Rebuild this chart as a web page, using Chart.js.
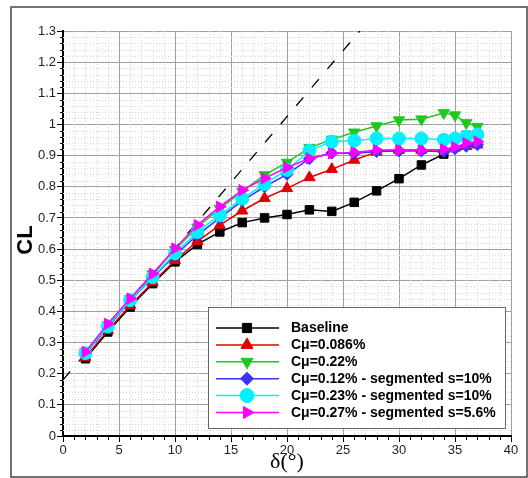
<!DOCTYPE html>
<html lang="en">
<head>
    <meta charset="UTF-8">
    <title>CL vs delta</title>
    <script src="https://cdn.jsdelivr.net/npm/chart.js"></script>
    <style>
        body {
            margin: 0;
            padding: 0;
            background: #fff;
        }
        canvas {
            display: block;
        }
    </style>
</head>
<body>
    <canvas id="clChart" width="528" height="478"></canvas>
    <script>
        // angles (deg)
        const deltaAll = [2, 4, 6, 8, 10, 12, 14, 16, 18, 20, 22, 24, 26, 28, 30, 32, 34, 35, 36, 37];
        const deltaBase = [2, 4, 6, 8, 10, 12, 14, 16, 18, 20, 22, 24, 26, 28, 30, 32, 34, 36];

        // CL values
        const clBaseline = [0.248, 0.334, 0.414, 0.489, 0.559, 0.615, 0.655, 0.685, 0.700, 0.711, 0.726, 0.721, 0.750, 0.787, 0.826, 0.870, 0.905, 0.965];
        const clCmu086 = [0.253, 0.339, 0.420, 0.493, 0.564, 0.625, 0.677, 0.723, 0.763, 0.795, 0.830, 0.856, 0.886, 0.912, 0.918, 0.918, 0.920, 0.925, 0.930, 0.935];
        const clCmu22 = [0.270, 0.357, 0.440, 0.520, 0.598, 0.670, 0.730, 0.785, 0.838, 0.878, 0.925, 0.952, 0.975, 0.995, 1.014, 1.017, 1.037, 1.030, 1.005, 0.993];
        const clSeg12 = [0.264, 0.350, 0.434, 0.508, 0.580, 0.645, 0.700, 0.755, 0.800, 0.840, 0.890, 0.908, 0.907, 0.913, 0.915, 0.915, 0.913, 0.922, 0.930, 0.935];
        const clSeg23 = [0.266, 0.352, 0.436, 0.510, 0.586, 0.655, 0.709, 0.762, 0.809, 0.854, 0.916, 0.945, 0.948, 0.955, 0.955, 0.955, 0.951, 0.955, 0.961, 0.968];
        const clSeg27 = [0.270, 0.360, 0.441, 0.521, 0.602, 0.677, 0.736, 0.789, 0.827, 0.862, 0.891, 0.907, 0.910, 0.918, 0.918, 0.917, 0.920, 0.927, 0.940, 0.945];

        // dashed reference line (two end points)
        const refDelta = [0, 26.5];
        const refCL = [0.18, 1.3];

        const seriesLabels = ['Baseline', 'C\u03bc=0.086%', 'C\u03bc=0.22%', 'C\u03bc=0.12% - segmented s=10%', 'C\u03bc=0.23% - segmented s=10%', 'C\u03bc=0.27% - segmented s=5.6%'];

        const yTickValues = [0, 0.1, 0.2, 0.3, 0.4, 0.5, 0.6, 0.7, 0.8, 0.9, 1, 1.1, 1.2, 1.3];
        const xTickValues = [0, 5, 10, 15, 20, 25, 30, 35, 40];

        function pts(xs, ys) {
            return ys.map((y, i) => ({ x: xs[i], y: y }));
        }

        // marker style per series
        const styles = [
            { color: '#000000', shape: 'rect', rot: 0, r: 6 },
            { color: '#e00000', shape: 'triangle', rot: 0, r: 6.5 },
            { color: '#1ec81e', shape: 'triangle', rot: 180, r: 6.5 },
            { color: '#3535ff', shape: 'rectRot', rot: 0, r: 6 },
            { color: '#00f2ff', shape: 'circle', rot: 0, r: 6.5 },
            { color: '#ff00ff', shape: 'triangle', rot: 90, r: 6.5 }
        ];
        const seriesData = [
            pts(deltaBase, clBaseline),
            pts(deltaAll, clCmu086),
            pts(deltaAll, clCmu22),
            pts(deltaAll, clSeg12),
            pts(deltaAll, clSeg23),
            pts(deltaAll, clSeg27)
        ];

        const datasets = seriesData.map((d, i) => ({
            label: seriesLabels[i],
            data: d,
            borderColor: styles[i].color,
            backgroundColor: styles[i].color,
            borderWidth: 1.5,
            pointStyle: styles[i].shape,
            rotation: styles[i].rot,
            pointRadius: styles[i].r,
            pointBorderWidth: 1,
            pointBorderColor: styles[i].color,
            pointBackgroundColor: styles[i].color,
            order: 6 - i // later series drawn on top
        }));
        datasets.push({
            label: 'ref',
            data: pts(refDelta, refCL),
            borderColor: '#000',
            borderWidth: 1.3,
            borderDash: [11, 13],
            pointRadius: 0,
            order: 10
        });

        // own marker drawing for the legend box (same geometry as chart.js)
        function drawMarker(ctx, s, x, y) {
            const r = s.r + 0.5;
            const rad = s.rot * Math.PI / 180;
            ctx.beginPath();
            if (s.shape === 'circle') {
                ctx.arc(x, y, r, 0, Math.PI * 2);
            } else if (s.shape === 'rect') {
                const h = Math.SQRT1_2 * r;
                ctx.rect(x - h, y - h, 2 * h, 2 * h);
            } else if (s.shape === 'rectRot') {
                ctx.moveTo(x, y - r);
                ctx.lineTo(x + r, y);
                ctx.lineTo(x, y + r);
                ctx.lineTo(x - r, y);
                ctx.closePath();
            } else {
                let a = rad;
                ctx.moveTo(x + Math.sin(a) * r, y - Math.cos(a) * r);
                a += 2 * Math.PI / 3;
                ctx.lineTo(x + Math.sin(a) * r, y - Math.cos(a) * r);
                a += 2 * Math.PI / 3;
                ctx.lineTo(x + Math.sin(a) * r, y - Math.cos(a) * r);
                ctx.closePath();
            }
            ctx.fillStyle = s.color;
            ctx.fill();
            ctx.lineWidth = 1;
            ctx.strokeStyle = s.color;
            ctx.stroke();
        }

        const decor = {
            id: 'decor',
            beforeDatasetsDraw(chart) {
                // dotted minor grid
                const ctx = chart.ctx;
                const a = chart.chartArea;
                const xs = chart.scales.x, ys = chart.scales.y;
                ctx.save();
                ctx.strokeStyle = '#d6d6d6';
                ctx.lineWidth = 1;
                ctx.setLineDash([1, 2]);
                for (let k = 1; k < 40; k++) {
                    if (k % 5 === 0) continue;
                    const px = Math.round(xs.getPixelForValue(k)) + 0.5;
                    ctx.beginPath();
                    ctx.moveTo(px, a.top);
                    ctx.lineTo(px, a.bottom);
                    ctx.stroke();
                }
                for (let k = 1; k < 65; k++) {
                    if (k % 5 === 0) continue;
                    const py = Math.round(ys.getPixelForValue(k * 0.02)) + 0.5;
                    ctx.beginPath();
                    ctx.moveTo(a.left, py);
                    ctx.lineTo(a.right, py);
                    ctx.stroke();
                }
                ctx.restore();
            },
            afterDraw(chart) {
                const ctx = chart.ctx;
                const a = chart.chartArea;
                const xs = chart.scales.x, ys = chart.scales.y;
                ctx.save();

                // minor ticks
                ctx.strokeStyle = '#000';
                ctx.lineWidth = 1;
                for (let k = 1; k < 40; k++) {
                    if (k % 5 === 0) continue;
                    const px = Math.round(xs.getPixelForValue(k)) + 0.5;
                    ctx.beginPath();
                    ctx.moveTo(px, a.bottom);
                    ctx.lineTo(px, a.bottom + 4);
                    ctx.stroke();
                }
                for (let k = 1; k < 65; k++) {
                    if (k % 5 === 0) continue;
                    const py = Math.round(ys.getPixelForValue(k * 0.02)) + 0.5;
                    ctx.beginPath();
                    ctx.moveTo(a.left - 3, py);
                    ctx.lineTo(a.left, py);
                    ctx.stroke();
                }

                // legend box
                ctx.fillStyle = '#fff';
                ctx.fillRect(208, 307, 297, 121);
                ctx.strokeStyle = '#666';
                ctx.lineWidth = 1;
                ctx.strokeRect(208.5, 307.5, 297, 121);
                ctx.font = 'bold 14px "Liberation Sans", Arial, sans-serif';
                ctx.textBaseline = 'middle';
                ctx.textAlign = 'left';
                for (let i = 0; i < seriesLabels.length; i++) {
                    const y = 328 + i * 16.9;
                    ctx.strokeStyle = styles[i].color;
                    ctx.lineWidth = 1.5;
                    ctx.beginPath();
                    ctx.moveTo(216, y);
                    ctx.lineTo(279, y);
                    ctx.stroke();
                    drawMarker(ctx, styles[i], 247, y);
                    ctx.fillStyle = '#000';
                    ctx.fillText(seriesLabels[i], 291, y + 0.5);
                }

                // axis titles
                ctx.fillStyle = '#000';
                ctx.textAlign = 'center';
                ctx.textBaseline = 'middle';
                ctx.font = '22px "Liberation Serif", "DejaVu Serif", serif';
                ctx.fillText('\u03b4(\u00b0)', 287, 462);
                ctx.translate(26, 240);
                ctx.rotate(-Math.PI / 2);
                ctx.font = 'bold 22px "Liberation Sans", Arial, sans-serif';
                ctx.fillText('CL', 0, 0);
                ctx.restore();

                // outer frame
                ctx.save();
                ctx.strokeStyle = '#444';
                ctx.lineWidth = 1.5;
                ctx.strokeRect(11, 7, 516, 470);
                ctx.restore();
            }
        };

        const tickFont = { family: '"Liberation Sans", Arial, sans-serif', size: 13 };

        new Chart(document.getElementById('clChart').getContext('2d'), {
            type: 'line',
            data: { datasets: datasets },
            options: {
                responsive: false,
                animation: false,
                layout: { padding: { left: 0, right: 17, top: 31, bottom: 0 } },
                plugins: {
                    legend: { display: false },
                    tooltip: { enabled: false }
                },
                scales: {
                    x: {
                        type: 'linear',
                        min: 0,
                        max: 40,
                        afterBuildTicks(s) { s.ticks = xTickValues.map(v => ({ value: v })); },
                        afterFit(s) { s.height = 42; },
                        ticks: { font: tickFont, color: '#222', padding: 1, maxRotation: 0,
                            callback: v => String(v) },
                        grid: { color: '#a0a0a0', lineWidth: 1, tickColor: '#000', tickLength: 6 },
                        border: { color: '#000', width: 2 }
                    },
                    y: {
                        type: 'linear',
                        min: 0,
                        max: 1.3,
                        afterBuildTicks(s) { s.ticks = yTickValues.map(v => ({ value: v })); },
                        afterFit(s) { s.width = 63; },
                        ticks: { font: tickFont, color: '#222', padding: 1,
                            callback: v => String(+Number(v).toFixed(1)) },
                        grid: { color: '#a0a0a0', lineWidth: 1, tickColor: '#000', tickLength: 6 },
                        border: { color: '#000', width: 2 }
                    }
                }
            },
            plugins: [decor]
        });
    </script>
</body>
</html>
